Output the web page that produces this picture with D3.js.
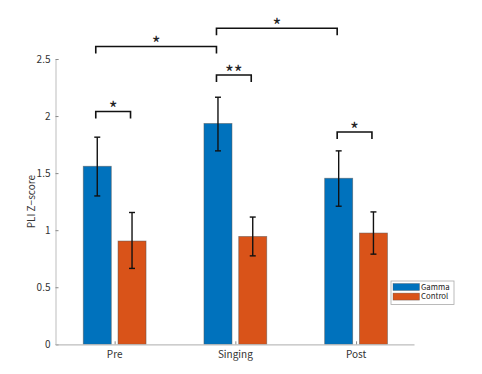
<!DOCTYPE html>
<html>
<head>
<meta charset="utf-8">
<script src="https://cdn.jsdelivr.net/npm/d3@7"></script>
<style>
	body { margin: 0; background: #fff; }
	text { font-family: "Noto Sans CJK JP", "Noto Sans", sans-serif; }
</style>
</head>
<body>
<svg id="chart" width="482" height="374"></svg>
<script>
// chart values
var categories = ['Pre', 'Singing', 'Post'];
var groups = ['Gamma', 'Control'];
var groupColors = ['#0072BD', '#D95319'];

var gammaMean = [1.56, 1.935, 1.455];
var gammaLow = [1.30, 1.695, 1.21];
var gammaHigh = [1.815, 2.165, 1.695];

var controlMean = [0.905, 0.945, 0.975];
var controlLow = [0.665, 0.775, 0.79];
var controlHigh = [1.155, 1.115, 1.16];

var yTicks = [0, 0.5, 1, 1.5, 2, 2.5];
var yTickLabels = ['0', '0.5', '1', '1.5', '2', '2.5'];

// significance brackets: [category, group] at each end
var sigFrom = [[0, 0], [0, 0], [1, 0], [1, 0], [2, 0]];
var sigTo = [[0, 1], [1, 0], [1, 1], [2, 0], [2, 1]];
var sigLevel = [2.04, 2.61, 2.36, 2.77, 1.86];
var sigLabel = ['*', '*', '**', '*', '*'];

var svg = d3.select('#chart');

var x = d3.scaleLinear().domain([0.51, 3.48]).range([55.5, 414]);
var y = d3.scaleLinear().domain([0, 2.5]).range([344.3, 59]);

var barWidth = 0.232;
var offset = 0.144;

var rows = [];
categories.forEach(function(c, i){
	rows.push({cat: i, grp: 0, mean: gammaMean[i], lo: gammaLow[i], hi: gammaHigh[i]});
	rows.push({cat: i, grp: 1, mean: controlMean[i], lo: controlLow[i], hi: controlHigh[i]});
});

function barCenter(cat, grp){
	return x(cat + 1 + (grp === 0 ? -offset : offset));
}

//bars
svg.selectAll('rect.bar')
	.data(rows)
	.enter()
	.append('rect')
	.attr('class', 'bar')
	.attr('x', function(d){ return barCenter(d.cat, d.grp) - (x(barWidth) - x(0)) / 2; })
	.attr('width', x(barWidth) - x(0))
	.attr('y', function(d){ return y(d.mean); })
	.attr('height', function(d){ return y(0) - y(d.mean); })
	.attr('fill', function(d){ return groupColors[d.grp]; })
	.attr('stroke', '#555')
	.attr('stroke-opacity', 0.6)
	.attr('stroke-width', 0.8);

//error bars
var err = svg.append('g').attr('stroke', '#111').attr('stroke-width', 1.4);
rows.forEach(function(d){
	var cx = barCenter(d.cat, d.grp);
	err.append('line').attr('x1', cx).attr('x2', cx).attr('y1', y(d.lo)).attr('y2', y(d.hi));
	err.append('line').attr('x1', cx - 3).attr('x2', cx + 3).attr('y1', y(d.lo)).attr('y2', y(d.lo));
	err.append('line').attr('x1', cx - 3).attr('x2', cx + 3).attr('y1', y(d.hi)).attr('y2', y(d.hi));
});

//axes
var axisColor = '#bdbdbd';
var yAxis = svg.append('g')
	.attr('transform', 'translate(' + x(0.51) + ',0)')
	.call(d3.axisRight(y).tickValues(yTicks).tickSize(3).tickFormat(''));
yAxis.select('.domain').attr('stroke', axisColor).attr('stroke-width', 1);
yAxis.selectAll('.tick line').attr('stroke', '#8a8a8a');

svg.selectAll('text.ytick')
	.data(yTicks)
	.enter()
	.append('text')
	.attr('class', 'ytick')
	.attr('x', x(0.51) - 5)
	.attr('y', function(d){ return y(d) + 3.5; })
	.attr('text-anchor', 'end')
	.attr('font-size', 10)
	.attr('fill', '#333')
	.text(function(d, i){ return yTickLabels[i]; });

var xAxis = svg.append('g')
	.attr('transform', 'translate(0,' + y(0) + ')')
	.call(d3.axisTop(x).tickValues([1, 2, 3]).tickSize(3).tickSizeOuter(0).tickFormat(''));
xAxis.select('.domain').attr('stroke', axisColor).attr('stroke-width', 1.2);
xAxis.selectAll('.tick line').attr('stroke', '#8a8a8a');

svg.selectAll('text.xtick')
	.data(categories)
	.enter()
	.append('text')
	.attr('class', 'xtick')
	.attr('x', function(d, i){ return x(i + 1); })
	.attr('y', 358)
	.attr('text-anchor', 'middle')
	.attr('font-size', 10)
	.attr('fill', '#333')
	.text(function(d){ return d; });

svg.append('text')
	.attr('transform', 'translate(35,' + y(1.25) + ') rotate(-90)')
	.attr('text-anchor', 'middle')
	.attr('font-size', 10)
	.attr('fill', '#333')
	.text('PLI Z\u2212score');

//significance brackets
var sig = svg.append('g');
sigLevel.forEach(function(lv, i){
	var x1 = barCenter(sigFrom[i][0], sigFrom[i][1]) - 1.5;
	var x2 = barCenter(sigTo[i][0], sigTo[i][1]) - 1.5;
	var yy = y(lv);
	sig.append('path')
		.attr('d', 'M' + x1 + ',' + (yy + 7) + 'V' + yy + 'H' + x2 + 'V' + (yy + 7))
		.attr('fill', 'none')
		.attr('stroke', '#111')
		.attr('stroke-width', 1.6);
	sig.append('text')
		.attr('x', (x1 + x2) / 2)
		.attr('y', yy + 5)
		.attr('text-anchor', 'middle')
		.attr('font-size', 19)
		.attr('font-family', 'DejaVu Sans')
		.attr('fill', '#222')
		.text(sigLabel[i]);
});

//legend
var legend = svg.append('g').attr('transform', 'translate(391,281)');
legend.append('rect')
	.attr('width', 63).attr('height', 23.5)
	.attr('fill', '#fff').attr('stroke', '#aaa').attr('stroke-width', 0.8);
groups.forEach(function(g, i){
	legend.append('rect')
		.attr('x', 2).attr('y', 2.5 + i * 9.6)
		.attr('width', 26.5).attr('height', 7)
		.attr('fill', groupColors[i])
		.attr('stroke', '#555').attr('stroke-opacity', 0.6).attr('stroke-width', 0.6);
	legend.append('text')
		.attr('x', 30).attr('y', 8.8 + i * 9.6)
		.attr('font-size', 7.8)
		.attr('font-family', 'Liberation Sans')
		.attr('fill', '#222')
		.text(g);
});
</script>
</body>
</html>
